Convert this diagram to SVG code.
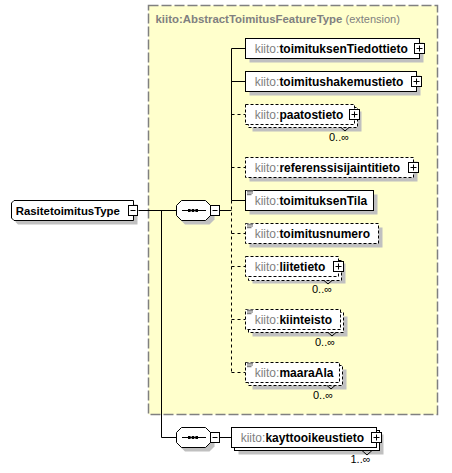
<svg xmlns="http://www.w3.org/2000/svg" width="452" height="473" viewBox="0 0 452 473">
<style>
.sh{fill:#c0c0c0;stroke:none}
.bx{fill:#fff;stroke:#000;stroke-width:1}
.dsh{stroke-dasharray:3,2}
.cn{fill:none;stroke:#000;stroke-width:1}
.cd{stroke-dasharray:3,3}
.t{font-family:"Liberation Sans",Arial,sans-serif;font-size:12px}
.p{fill:#808080}
.n{font-weight:bold;fill:#000}
.m{font-family:"Liberation Sans",Arial,sans-serif;font-size:11px;fill:#000}
.ic{fill:none;stroke:#000;stroke-width:0.6}
</style>
<defs>
<g id="plus"><rect x="-5" y="-5" width="10" height="10" fill="#fff" stroke="#000"/><path d="M-3,0H3M0,-3V3" stroke="#000" fill="none"/></g>
<g id="minus"><rect x="0" y="-5" width="9" height="10" fill="#fff" stroke="#000"/><path d="M2,0H7" stroke="#000" fill="none"/></g>
<g id="simple"><rect x="1" y="0.6" width="7" height="5" fill="#fff"/><path d="M1.5,1.3H7.5M1.5,3H7.5M1.5,4.7H6" class="ic"/></g>
<g id="seq">
<polygon points="185,4 209.5,4 214.5,9 214.5,19 209.5,24 185,24 180,19 180,9" class="sh"/>
<polygon points="181.5,0 205.5,0 210.5,5 210.5,15 205.5,20 181.5,20 176.5,15 176.5,5" class="bx"/>
<path d="M182,10H206" stroke="#000" fill="none"/>
<rect x="188" y="8.5" width="2.6" height="3" fill="#000"/>
<rect x="191.7" y="8.5" width="2.6" height="3" fill="#000"/>
<rect x="195.4" y="8.5" width="2.6" height="3" fill="#000"/>
<use href="#minus" x="210.5" y="10"/>
</g>
</defs>

<g id="extension">
<rect x="148.5" y="5.5" width="289" height="409" fill="#ffffcc" stroke="#808080" stroke-width="1.5" stroke-dasharray="10,3"/>
<text x="155.5" y="23" class="t" style="font-size:11.4px;fill:#808080"><tspan font-weight="bold">kiito:AbstractToimitusFeatureType</tspan><tspan font-size="11px"> (extension)</tspan></text>
</g>

<g id="connectors">
<path class="cn" d="M138.5,210.5H176.5"/>
<path class="cn" d="M161.5,210.5V437.5H176.5"/>
<path class="cn" d="M219.5,210.5H231.5"/>
<path class="cn" d="M231.5,48.5V200.5"/>
<path class="cn cd" d="M231.5,200.5V372.5"/>
<path class="cn" d="M231.5,48.5H245.5M231.5,81.5H245.5M231.5,200.5H245.5"/>
<path class="cn cd" d="M231.5,114.5H245.5M231.5,167.5H245.5M231.5,233.5H245.5M231.5,266.5H245.5M231.5,319.5H245.5M231.5,372.5H245.5"/>
<path class="cn" d="M219.5,437.5H231.5"/>
</g>

<g id="RasitetoimitusType">
<polygon points="18,204.5 137.5,204.5 137.5,224.5 18,224.5 15.5,222 15.5,207" class="sh"/>
<polygon points="14,200.5 133.5,200.5 133.5,220.5 14,220.5 11.5,218 11.5,203" class="bx"/>
<text x="15.7" y="214.5" class="t n" style="font-size:11.4px">RasitetoimitusType</text>
<use href="#minus" x="128.5" y="210.5"/>
</g>

<g id="sequence1"><use href="#seq" x="0" y="200.5"/></g>
<g id="sequence2"><use href="#seq" x="0" y="427.5"/></g>

<g id="toimituksenTiedottieto">
<rect x="249.5" y="42.5" width="174" height="20" class="sh"/>
<rect x="245.5" y="38.5" width="174" height="20" class="bx"/>
<text x="254.7" y="52.5" class="t"><tspan class="p">kiito:</tspan><tspan class="n">toimituksenTiedottieto</tspan></text>
<use href="#plus" x="419.5" y="48.5"/>
</g>

<g id="toimitushakemustieto">
<rect x="249.5" y="75.5" width="171" height="20" class="sh"/>
<rect x="245.5" y="71.5" width="171" height="20" class="bx"/>
<text x="254.7" y="85.5" class="t"><tspan class="p">kiito:</tspan><tspan class="n">toimitushakemustieto</tspan></text>
<use href="#plus" x="416.5" y="81.5"/>
</g>

<g id="paatostieto">
<rect x="252.5" y="111.5" width="109" height="20" class="sh"/>
<rect x="248.5" y="107.5" width="109" height="20" class="bx dsh"/>
<rect x="245.5" y="104.5" width="109" height="20" class="bx dsh"/>
<path d="M341,127.5L345,131L349,127.5" class="cn"/>
<text x="254.7" y="118.5" class="t"><tspan class="p">kiito:</tspan><tspan class="n">paatostieto</tspan></text>
<use href="#plus" x="354.5" y="114.5"/>
<text x="329" y="141" class="m">0..∞</text>
</g>

<g id="referenssisijaintitieto">
<rect x="249.5" y="161.5" width="168" height="20" class="sh"/>
<rect x="245.5" y="157.5" width="168" height="20" class="bx dsh"/>
<text x="254.7" y="171.5" class="t"><tspan class="p">kiito:</tspan><tspan class="n">referenssisijaintitieto</tspan></text>
<use href="#plus" x="413.5" y="167.5"/>
</g>

<g id="toimituksenTila">
<rect x="249.5" y="194.5" width="128" height="20" class="sh"/>
<rect x="245.5" y="190.5" width="128" height="20" class="bx"/>
<use href="#simple" x="245.5" y="190"/>
<text x="254.7" y="204.5" class="t"><tspan class="p">kiito:</tspan><tspan class="n">toimituksenTila</tspan></text>
</g>

<g id="toimitusnumero">
<rect x="249.5" y="227.5" width="133" height="20" class="sh"/>
<rect x="245.5" y="223.5" width="133" height="20" class="bx dsh"/>
<use href="#simple" x="245.5" y="223"/>
<text x="254.7" y="237.5" class="t"><tspan class="p">kiito:</tspan><tspan class="n">toimitusnumero</tspan></text>
</g>

<g id="liitetieto">
<rect x="252.5" y="263.5" width="93" height="20" class="sh"/>
<rect x="248.5" y="260.5" width="93" height="20" class="bx dsh"/>
<rect x="245.5" y="256.5" width="93" height="20" class="bx dsh"/>
<path d="M324,280.5L328,284L332,280.5" class="cn"/>
<text x="254.7" y="270.5" class="t"><tspan class="p">kiito:</tspan><tspan class="n">liitetieto</tspan></text>
<use href="#plus" x="338.5" y="266.5"/>
<text x="312" y="293" class="m">0..∞</text>
</g>

<g id="kiinteisto">
<rect x="252.5" y="316.5" width="95" height="20" class="sh"/>
<rect x="248.5" y="312.5" width="95" height="20" class="bx dsh"/>
<rect x="245.5" y="309.5" width="95" height="20" class="bx dsh"/>
<path d="M328,332.5L332,336L336,332.5" class="cn"/>
<use href="#simple" x="245.5" y="309"/>
<text x="254.7" y="323.5" class="t"><tspan class="p">kiito:</tspan><tspan class="n">kiinteisto</tspan></text>
<text x="315" y="346" class="m">0..∞</text>
</g>

<g id="maaraAla">
<rect x="252.5" y="369.5" width="94" height="20" class="sh"/>
<rect x="248.5" y="365.5" width="94" height="20" class="bx dsh"/>
<rect x="245.5" y="362.5" width="94" height="20" class="bx dsh"/>
<path d="M327,385.5L331,389L335,385.5" class="cn"/>
<use href="#simple" x="245.5" y="362"/>
<text x="254.7" y="376.5" class="t"><tspan class="p">kiito:</tspan><tspan class="n">maaraAla</tspan></text>
<text x="313" y="399" class="m">0..∞</text>
</g>

<g id="kayttooikeustieto">
<rect x="238.5" y="434.5" width="145" height="20" class="sh"/>
<rect x="234.5" y="430.5" width="145" height="20" class="bx"/>
<rect x="231.5" y="427.5" width="145" height="20" class="bx"/>
<path d="M362,450.5L367,455L372,450.5" class="cn"/>
<text x="240.7" y="441.5" class="t"><tspan class="p">kiito:</tspan><tspan class="n">kayttooikeustieto</tspan></text>
<use href="#plus" x="376.5" y="437.5"/>
<text x="350.5" y="463" class="m">1..∞</text>
</g>
</svg>
